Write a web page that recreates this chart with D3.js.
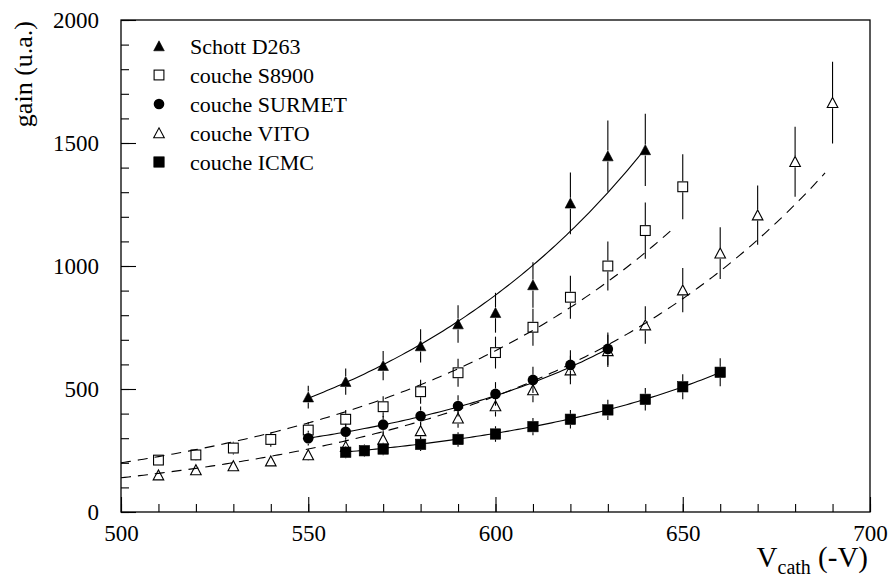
<!DOCTYPE html>
<html>
<head>
<meta charset="utf-8">
<script src="https://cdn.jsdelivr.net/npm/d3@7"></script>
<style>
  html, body { margin: 0; padding: 0; background: #fff; }
  svg { display: block; }
  text { font-family: "Liberation Serif", "Times New Roman", serif; fill: #000; }
</style>
</head>
<body>
<svg id="chart" width="892" height="580"></svg>
<script>
// ---------- data ----------
const seriesNames = ["Schott D263", "couche S8900", "couche SURMET", "couche VITO", "couche ICMC"];
const seriesMarkers = ["triangleFilled", "squareOpen", "circleFilled", "triangleOpen", "squareFilled"];

const voltSchott = [550, 560, 570, 580, 590, 600, 610, 620, 630, 640];
const gainSchott = [467, 530, 595, 675, 764, 810, 923, 1255, 1447, 1472];

const voltS8900 = [510, 520, 530, 540, 550, 560, 570, 580, 590, 600, 610, 620, 630, 640, 650];
const gainS8900 = [211, 232, 260, 295, 333, 377, 428, 489, 566, 648, 751, 873, 1000, 1144, 1322];

const voltSurmet = [550, 560, 570, 580, 590, 600, 610, 620, 630];
const gainSurmet = [300, 326, 355, 390, 431, 480, 537, 598, 663];

const voltVito = [510, 520, 530, 540, 550, 560, 570, 580, 590, 600, 610, 620, 630, 640, 650, 660, 670, 680, 690];
const gainVito = [150, 171, 187, 207, 232, 266, 295, 330, 381, 431, 496, 577, 655, 760, 902, 1052, 1207, 1424, 1664];

const voltIcmc = [560, 565, 570, 580, 590, 600, 610, 620, 630, 640, 650, 660];
const gainIcmc = [243, 249, 256, 275, 295, 317, 347, 377, 415, 458, 509, 568];

// relative uncertainty on every point (error bars = +-10 %)
const relError = 0.10;

// fit curves: ln(gain) = p0 + p1*(V-600) + p2*(V-600)^2 over [from, to]
const fitFrom  = [550, 500, 550, 500, 560];
const fitTo    = [640, 648, 630, 688, 660];
const fitP0    = [6.782, 6.486, 6.159, 6.155, 5.768];
const fitP1    = [0.0129, 0.01188, 0.010456, 0.0122, 0.00789];
const fitP2    = [0, 0, 2.72e-5, 0, 2.78e-5];
const fitDashed = [false, true, false, true, false];

const xMajorTicks = [500, 550, 600, 650, 700];
const yMajorTicks = [0, 500, 1000, 1500, 2000];

const xLabel = "V", xLabelSub = "cath", xLabelUnit = " (-V)";
const yLabel = "gain (u.a.)";

// ---------- layout ----------
const svg = d3.select("#chart");
const plotL = 121, plotR = 870, plotT = 20, plotB = 512;
const x = d3.scaleLinear().domain([500, 700]).range([plotL, plotR]);
const y = d3.scaleLinear().domain([0, 2000]).range([plotB, plotT]);

const series = [
  { v: voltSchott, g: gainSchott },
  { v: voltS8900, g: gainS8900 },
  { v: voltSurmet, g: gainSurmet },
  { v: voltVito, g: gainVito },
  { v: voltIcmc, g: gainIcmc }
];

// frame
svg.append("rect")
  .attr("x", plotL).attr("y", plotT)
  .attr("width", plotR - plotL).attr("height", plotB - plotT)
  .attr("fill", "none").attr("stroke", "#000").attr("stroke-width", 1.3);

// axes
const tickFont = 23;
const xMinor = d3.range(500, 701, 10);
const yMinor = d3.range(0, 2001, 100);

const gxMinor = svg.append("g").attr("transform", `translate(0,${plotB})`)
  .call(d3.axisBottom(x).tickValues(xMinor).tickSize(-8).tickFormat(""));
const gxMajor = svg.append("g").attr("transform", `translate(0,${plotB})`)
  .call(d3.axisBottom(x).tickValues(xMajorTicks).tickSize(-15).tickPadding(13).tickFormat(d3.format("d")));
const gyMinor = svg.append("g").attr("transform", `translate(${plotL},0)`)
  .call(d3.axisLeft(y).tickValues(yMinor).tickSize(-8).tickFormat(""));
const gyMajor = svg.append("g").attr("transform", `translate(${plotL},0)`)
  .call(d3.axisLeft(y).tickValues(yMajorTicks).tickSize(-15).tickPadding(22).tickFormat(d3.format("d")));

[gxMinor, gxMajor, gyMinor, gyMajor].forEach(g => {
  g.select(".domain").remove();
  g.selectAll(".tick line").attr("stroke", "#000").attr("stroke-width", 1.1);
  g.selectAll(".tick text")
    .style("font-family", '"Liberation Serif", "Times New Roman", serif')
    .style("font-size", tickFont + "px").attr("fill", "#000");
});

// axis titles
svg.append("text")
  .attr("transform", "translate(32,21) rotate(-90)")
  .attr("text-anchor", "end")
  .style("font-size", "26px")
  .text(yLabel);

const xt = svg.append("text")
  .attr("x", 868).attr("y", 567)
  .attr("text-anchor", "end")
  .style("font-size", "29px");
xt.append("tspan").text(xLabel);
xt.append("tspan").attr("dy", 7).style("font-size", "20px").text(xLabelSub);
xt.append("tspan").attr("dy", -7).text(xLabelUnit);

// fit curves
series.forEach((s, i) => {
  const pts = d3.range(fitFrom[i], fitTo[i] + 0.001, 1).map(V => {
    const u = V - 600;
    return [V, Math.exp(fitP0[i] + fitP1[i] * u + fitP2[i] * u * u)];
  });
  svg.append("path")
    .datum(pts)
    .attr("fill", "none")
    .attr("stroke", "#000")
    .attr("stroke-width", 1.1)
    .attr("stroke-dasharray", fitDashed[i] ? "10,7" : null)
    .attr("d", d3.line().x(d => x(d[0])).y(d => y(d[1])));
});

// marker drawing
function drawMarker(g, type, cx, cy) {
  const s = 5.3;
  if (type === "triangleFilled" || type === "triangleOpen") {
    const filled = type === "triangleFilled";
    g.append("path")
      .attr("d", `M${cx - s},${cy + 4.8}L${cx + s},${cy + 4.8}L${cx},${cy - 5.2}Z`)
      .attr("fill", filled ? "#000" : "none")
      .attr("stroke", "#000").attr("stroke-width", filled ? 0.6 : 1.1);
  } else if (type === "squareOpen" || type === "squareFilled") {
    const filled = type === "squareFilled";
    const h = filled ? 5.2 : 4.9;
    g.append("rect")
      .attr("x", cx - h).attr("y", cy - h).attr("width", 2 * h).attr("height", 2 * h)
      .attr("fill", filled ? "#000" : "none")
      .attr("stroke", "#000").attr("stroke-width", filled ? 0.6 : 1.1);
  } else if (type === "circleFilled") {
    g.append("circle").attr("cx", cx).attr("cy", cy).attr("r", 5.3).attr("fill", "#000");
  }
}

// error bars + markers
const gap = 5.5;
series.forEach((s, i) => {
  const g = svg.append("g");
  s.v.forEach((V, j) => {
    const val = s.g[j];
    const cx = x(V), cy = y(val);
    const yTop = y(val * (1 + relError)), yBot = y(val * (1 - relError));
    if (cy - gap > yTop) {
      g.append("line").attr("x1", cx).attr("x2", cx).attr("y1", yTop).attr("y2", cy - gap)
        .attr("stroke", "#000").attr("stroke-width", 1.1);
    }
    if (yBot > cy + gap) {
      g.append("line").attr("x1", cx).attr("x2", cx).attr("y1", cy + gap).attr("y2", yBot)
        .attr("stroke", "#000").attr("stroke-width", 1.1);
    }
  });
  s.v.forEach((V, j) => drawMarker(g, seriesMarkers[i], x(V), y(s.g[j])));
});

// legend
const legend = svg.append("g");
seriesNames.forEach((name, i) => {
  const ry = 46 + i * 29;
  drawMarker(legend, seriesMarkers[i], 159, ry);
  legend.append("text")
    .attr("x", 190).attr("y", ry + 8)
    .style("font-size", "22px")
    .text(name);
});
</script>
</body>
</html>
